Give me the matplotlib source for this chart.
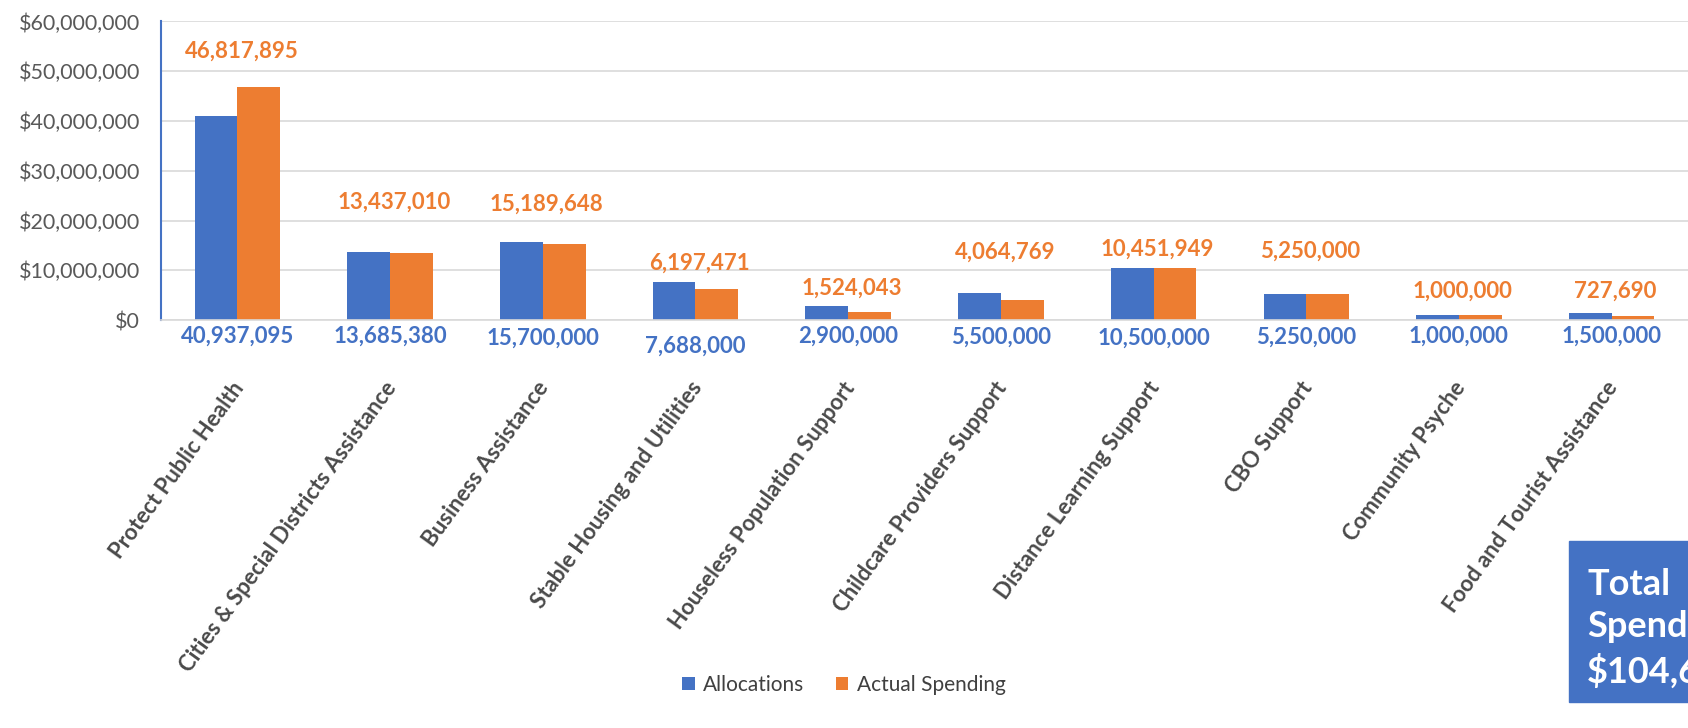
import matplotlib.pyplot as plt
import matplotlib.patches as mpatches
import numpy as np

categories = [
    "Protect Public Health",
    "Cities & Special Districts Assistance",
    "Business Assistance",
    "Stable Housing and Utilities",
    "Houseless Population Support",
    "Childcare Providers Support",
    "Distance Learning Support",
    "CBO Support",
    "Community Psyche",
    "Food and Tourist Assistance",
]
allocations = [40937095, 13685380, 15700000, 7688000, 2900000,
               5500000, 10500000, 5250000, 1000000, 1500000]
actual_spending = [46817895, 13437010, 15189648, 6197471, 1524043,
                   4064769, 10451949, 5250000, 1000000, 727690]
total_spending = "$104,660,475"

# label placement in pixels (Excel labels were dragged around by hand)
orange_offsets = [269, 118, 116, 57, 32, 68, 71, 69, 29, 29]
blue_offsets = [16, 16, 18, 26, 16, 17, 18, 17, 16, 16]

BLUE = "#4472C4"
ORANGE = "#ED7D31"
plt.rcParams['font.family'] = ['Lato', 'DejaVu Sans']

fig = plt.figure(figsize=(16.88, 7.28), dpi=100)
ax = fig.add_axes([0.0954, 0.5604, 0.9046, 0.4101])

x = np.arange(len(categories))
w = 0.28
ax.bar(x - w / 2, allocations, w, color=BLUE, label="Allocations")
ax.bar(x + w / 2, actual_spending, w, color=ORANGE, label="Actual Spending")

ax.set_xlim(-0.5, len(categories) - 0.5)
ax.set_ylim(0, 60000000)
ax.set_yticks(np.arange(0, 60000001, 10000000))
ax.set_yticklabels([f"${v:,.0f}" for v in ax.get_yticks()], fontsize=15.5, color="#595959")
ax.yaxis.grid(True, color="#D9D9D9", linewidth=1.2)
ax.set_axisbelow(True)
ax.tick_params(axis="both", length=0)
ax.tick_params(axis="y", pad=15)

for s in ["top", "right"]:
    ax.spines[s].set_visible(False)
ax.spines["left"].set_color(BLUE)
ax.spines["left"].set_linewidth(1.5)
ax.spines["bottom"].set_color("#D9D9D9")
ax.spines["bottom"].set_linewidth(1.2)

ax.set_xticks(x)
ax.set_xticklabels([])
for i, name in enumerate(categories):
    ax.annotate(name, (x[i], 0), xytext=(2, -64), textcoords="offset pixels",
                rotation=54, rotation_mode="anchor", ha="right", va="center",
                fontsize=16, fontweight="bold", color="#4A4A4A")

for i in range(len(categories)):
    ax.annotate(f"{actual_spending[i]:,}", (x[i], 0), xytext=(4, orange_offsets[i]),
                textcoords="offset pixels", ha="center", va="center",
                fontsize=16, fontweight="bold", color=ORANGE)
    ax.annotate(f"{allocations[i]:,}", (x[i], 0), xytext=(0, -blue_offsets[i]),
                textcoords="offset pixels", ha="center", va="center",
                fontsize=16, fontweight="bold", color=BLUE)

fig.legend(loc="center", bbox_to_anchor=(0.5, 1 - 685 / 728), ncol=2, frameon=False,
           fontsize=15, handlelength=0.6, handleheight=0.6, handletextpad=0.4,
           columnspacing=1.5, labelcolor="#404040")

box = mpatches.Rectangle((1569 / 1688, 1 - 702 / 728), 0.2, 161 / 728,
                         transform=fig.transFigure, color=BLUE, zorder=5)
fig.patches.append(box)
fig.text(1587 / 1688, 1 - 628 / 728, "Total\nSpending:\n" + total_spending,
         fontsize=26, fontweight="bold", color="white", va="center", ha="left",
         linespacing=1.35, zorder=6)

fig.savefig("out.png", dpi=100)
